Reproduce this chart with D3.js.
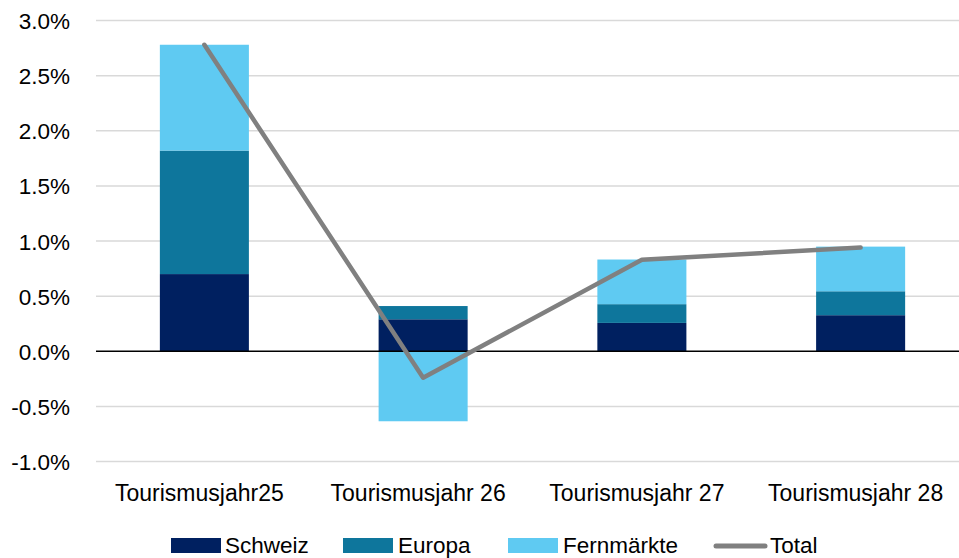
<!DOCTYPE html>
<html>
<head>
<meta charset="utf-8">
<script src="https://cdn.jsdelivr.net/npm/d3@7"></script>
<style>
  html, body { margin: 0; padding: 0; background: #fff; }
  svg { display: block; }
  text { font-family: "Liberation Sans", Arial, sans-serif; fill: #000; }
</style>
</head>
<body>
<svg id="chart" width="959" height="558"></svg>
<script>
// Beiträge zum Wachstum der Logiernächte nach Herkunft (in %)
const categories = ["Tourismusjahr25", "Tourismusjahr 26", "Tourismusjahr 27", "Tourismusjahr 28"];
const seriesNames = ["Schweiz", "Europa", "Fernmärkte"];
const schweiz = [0.70, 0.29, 0.257, 0.327];
const europa = [1.12, 0.12, 0.17, 0.217];
const fernmaerkte = [0.96, -0.635, 0.405, 0.405];
const total = [2.78, -0.24, 0.83, 0.94];
const yTicks = [-1.0, -0.5, 0.0, 0.5, 1.0, 1.5, 2.0, 2.5, 3.0];
const colors = ["#002060", "#0E769C", "#5FCAF2"];
const lineColor = "#808080";

const svg = d3.select("#chart");

const x = d3.scaleBand()
  .domain(categories)
  .range([95, 970])
  .paddingInner(0.593)
  .paddingOuter(0.2965);

const y = d3.scaleLinear().domain([-1, 3]).range([461.5, 20.5]);

const gridLeft = 96, gridRight = 959;

// Gitternetz
svg.append("g").selectAll("line")
  .data(yTicks.filter(t => t !== 0))
  .join("line")
  .attr("x1", gridLeft).attr("x2", gridRight)
  .attr("y1", d => y(d)).attr("y2", d => y(d))
  .attr("stroke", "#d9d9d9").attr("stroke-width", 1.5);

// Y-Achse Beschriftung (mit einfachem Bindestrich als Minuszeichen)
const yAxis = d3.axisLeft(y).tickValues(yTicks)
  .tickFormat(d => d.toFixed(1) + "%")
  .tickSize(0).tickPadding(0);
const gy = svg.append("g").attr("transform", "translate(70,0)").call(yAxis);
gy.select(".domain").remove();
gy.selectAll("text")
  .attr("font-size", "22.5px")
  .attr("font-family", "Liberation Sans, Arial, sans-serif")
  .attr("fill", "#000")
  .attr("dy", "0.36em");

// Gestapelte Balken
const rows = categories.map((c, i) => ({
  cat: c, Schweiz: schweiz[i], Europa: europa[i], "Fernmärkte": fernmaerkte[i]
}));
const stacked = d3.stack().keys(seriesNames).offset(d3.stackOffsetDiverging)(rows);

svg.append("g").selectAll("g")
  .data(stacked)
  .join("g")
  .attr("fill", (d, i) => colors[i])
  .selectAll("rect")
  .data(d => d)
  .join("rect")
  .attr("x", d => x(d.data.cat))
  .attr("width", x.bandwidth())
  .attr("y", d => y(Math.max(d[0], d[1])))
  .attr("height", d => Math.abs(y(d[0]) - y(d[1])));

// Nulllinie
svg.append("line")
  .attr("x1", gridLeft).attr("x2", gridRight)
  .attr("y1", y(0)).attr("y2", y(0))
  .attr("stroke", "#000").attr("stroke-width", 1.5);

// Totallinie
const line = d3.line()
  .x((d, i) => x(categories[i]) + x.bandwidth() / 2)
  .y(d => y(d));
svg.append("path")
  .datum(total)
  .attr("d", line)
  .attr("fill", "none")
  .attr("stroke", lineColor)
  .attr("stroke-width", 4.5)
  .attr("stroke-linecap", "round")
  .attr("stroke-linejoin", "round");

// X-Achse Beschriftung
const xAxis = d3.axisBottom(x).tickSize(0).tickPadding(0);
const gx = svg.append("g").attr("transform", "translate(-5,501)").call(xAxis);
gx.select(".domain").remove();
gx.selectAll("text")
  .attr("font-size", "23px")
  .attr("font-family", "Liberation Sans, Arial, sans-serif")
  .attr("fill", "#000")
  .attr("dy", 0)
  .attr("y", 0);

// Legende
const legendItems = [
  { name: "Schweiz", type: "rect", color: colors[0], x: 171, tx: 225 },
  { name: "Europa", type: "rect", color: colors[1], x: 343, tx: 398 },
  { name: "Fernmärkte", type: "rect", color: colors[2], x: 508, tx: 563 },
  { name: "Total", type: "line", color: lineColor, x: 716, tx: 770 }
];
const lg = svg.append("g");
legendItems.forEach(it => {
  if (it.type === "rect") {
    lg.append("rect").attr("x", it.x).attr("y", 538).attr("width", 50).attr("height", 15)
      .attr("fill", it.color);
  } else {
    lg.append("line").attr("x1", it.x).attr("x2", it.x + 49).attr("y1", 546).attr("y2", 546)
      .attr("stroke", it.color).attr("stroke-width", 5).attr("stroke-linecap", "round");
  }
  lg.append("text").attr("x", it.tx).attr("y", 553)
    .attr("font-size", "22.5px").text(it.name);
});
</script>
</body>
</html>
